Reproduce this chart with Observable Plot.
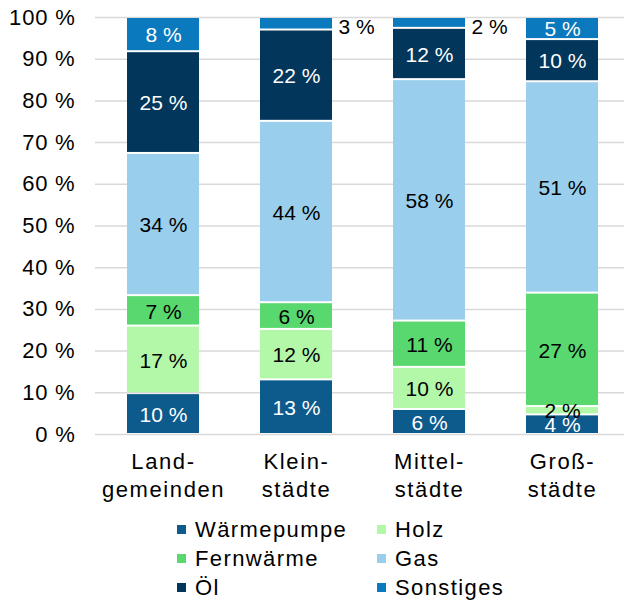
<!DOCTYPE html>
<html>
<head>
<meta charset="utf-8">
<script src="https://cdn.jsdelivr.net/npm/d3@7"></script>
<script src="https://cdn.jsdelivr.net/npm/@observablehq/plot@0.6"></script>
<style>
  html, body { margin: 0; padding: 0; background: #fff; }
  body { width: 624px; height: 604px; overflow: hidden; font-family: "Liberation Sans", Arial, sans-serif; }
  #legend { display: grid; grid-template-columns: 200px 200px; padding-left: 177px; margin-top: 10px; row-gap: 0; }
  .item { display: flex; align-items: center; height: 29px; font-size: 22px; letter-spacing: 1.4px; color: #000; }
  .sw { width: 9px; height: 9px; margin-right: 9px; flex: none; }
  g[aria-label="x-axis tick label"] text { letter-spacing: 1.6px; }
  g[aria-label="y-axis tick label"] text { letter-spacing: 0.8px; }
</style>
</head>
<body>
<div id="chart"></div>
<div id="legend"></div>
<script>
const categories = ["Landgemeinden", "Kleinstädte", "Mittelstädte", "Großstädte"];
const categoryLabels = ["Land-\ngemeinden", "Klein-\nstädte", "Mittel-\nstädte", "Groß-\nstädte"];
const types = ["Wärmepumpe", "Holz", "Fernwärme", "Gas", "Öl", "Sonstiges"];
const colors = ["#0d5a8c", "#b3f7a9", "#58d86e", "#99cfec", "#03365b", "#0a79bd"];
const textColors = ["white", "black", "black", "black", "white", "white"];

// shares (%) per category, in order of types
const waermepumpe = [9.8, 13.1, 6.0, 4.7];
const holz        = [16.2, 12.1, 10.1, 2.0];
const fernwaerme  = [7.3, 6.4, 11.1, 27.2];
const gas         = [34.1, 43.5, 57.9, 50.7];
const oel         = [24.4, 21.9, 12.3, 10.1];
const sonstiges   = [8.2, 3.0, 2.6, 5.3];

// printed labels
const labelsWaermepumpe = ["10 %", "13 %", "6 %", "4 %"];
const labelsHolz        = ["17 %", "12 %", "10 %", "2 %"];
const labelsFernwaerme  = ["7 %", "6 %", "11 %", "27 %"];
const labelsGas         = ["34 %", "44 %", "58 %", "51 %"];
const labelsOel         = ["25 %", "22 %", "12 %", "10 %"];
const labelsSonstiges   = ["8 %", "3 %", "2 %", "5 %"];
// labels printed beside the bar instead of inside
const outsideLabels = [["Kleinstädte", "Sonstiges"], ["Mittelstädte", "Sonstiges"]];

const yTicks = [0, 10, 20, 30, 40, 50, 60, 70, 80, 90, 100];

const series = [waermepumpe, holz, fernwaerme, gas, oel, sonstiges];
const seriesLabels = [labelsWaermepumpe, labelsHolz, labelsFernwaerme, labelsGas, labelsOel, labelsSonstiges];

const data = [];
types.forEach((t, i) => categories.forEach((c, j) => {
  const outside = outsideLabels.some(([oc, ot]) => oc === c && ot === t);
  data.push({category: c, type: t, value: series[i][j], label: seriesLabels[i][j], textColor: textColors[i], outside});
}));

const font = "Liberation Sans, Arial, sans-serif";

const chart = Plot.plot({
  width: 624,
  height: 505,
  marginTop: 17,
  marginLeft: 95,
  marginRight: 0,
  marginBottom: 71,
  style: {fontFamily: font, fontSize: "21px", color: "#000", background: "white"},
  x: {domain: categories, range: [95, 629], paddingInner: 0.46, paddingOuter: 0.23, label: null},
  y: {domain: [0, 100], label: null},
  color: {domain: types, range: colors},
  marks: [
    Plot.ruleY(yTicks, {stroke: "#d9d9d9", strokeWidth: 1.5}),
    Plot.barY(data, Plot.stackY({x: "category", y: "value", fill: "type", order: types, insetTop: 1, insetBottom: 1})),
    Plot.text(data.filter(d => !d.outside), Plot.stackY({x: "category", y: "value", z: "type", order: types, text: "label", fill: "textColor", fontSize: 21, dy: 1})),
    Plot.text(data, Plot.stackY({x: "category", y: "value", z: "type", order: types, text: d => d.outside ? d.label : "", fill: "black", fontSize: 21, textAnchor: "start", dx: 42, dy: 4})),
    Plot.axisY({ticks: yTicks, tickSize: 0, tickPadding: 20, tickFormat: d => d + " %", fontSize: 22, label: null}),
    Plot.axisX({tickSize: 0, tickPadding: 15, tickFormat: d => categoryLabels[categories.indexOf(d)], fontSize: 22, lineHeight: 1.25, label: null})
  ]
});
document.getElementById("chart").appendChild(chart);

const legendOrder = ["Wärmepumpe", "Holz", "Fernwärme", "Gas", "Öl", "Sonstiges"];
const legend = document.getElementById("legend");
legendOrder.forEach(t => {
  const item = document.createElement("div");
  item.className = "item";
  const sw = document.createElement("span");
  sw.className = "sw";
  sw.style.background = colors[types.indexOf(t)];
  item.appendChild(sw);
  item.appendChild(document.createTextNode(t));
  legend.appendChild(item);
});
</script>
</body>
</html>
